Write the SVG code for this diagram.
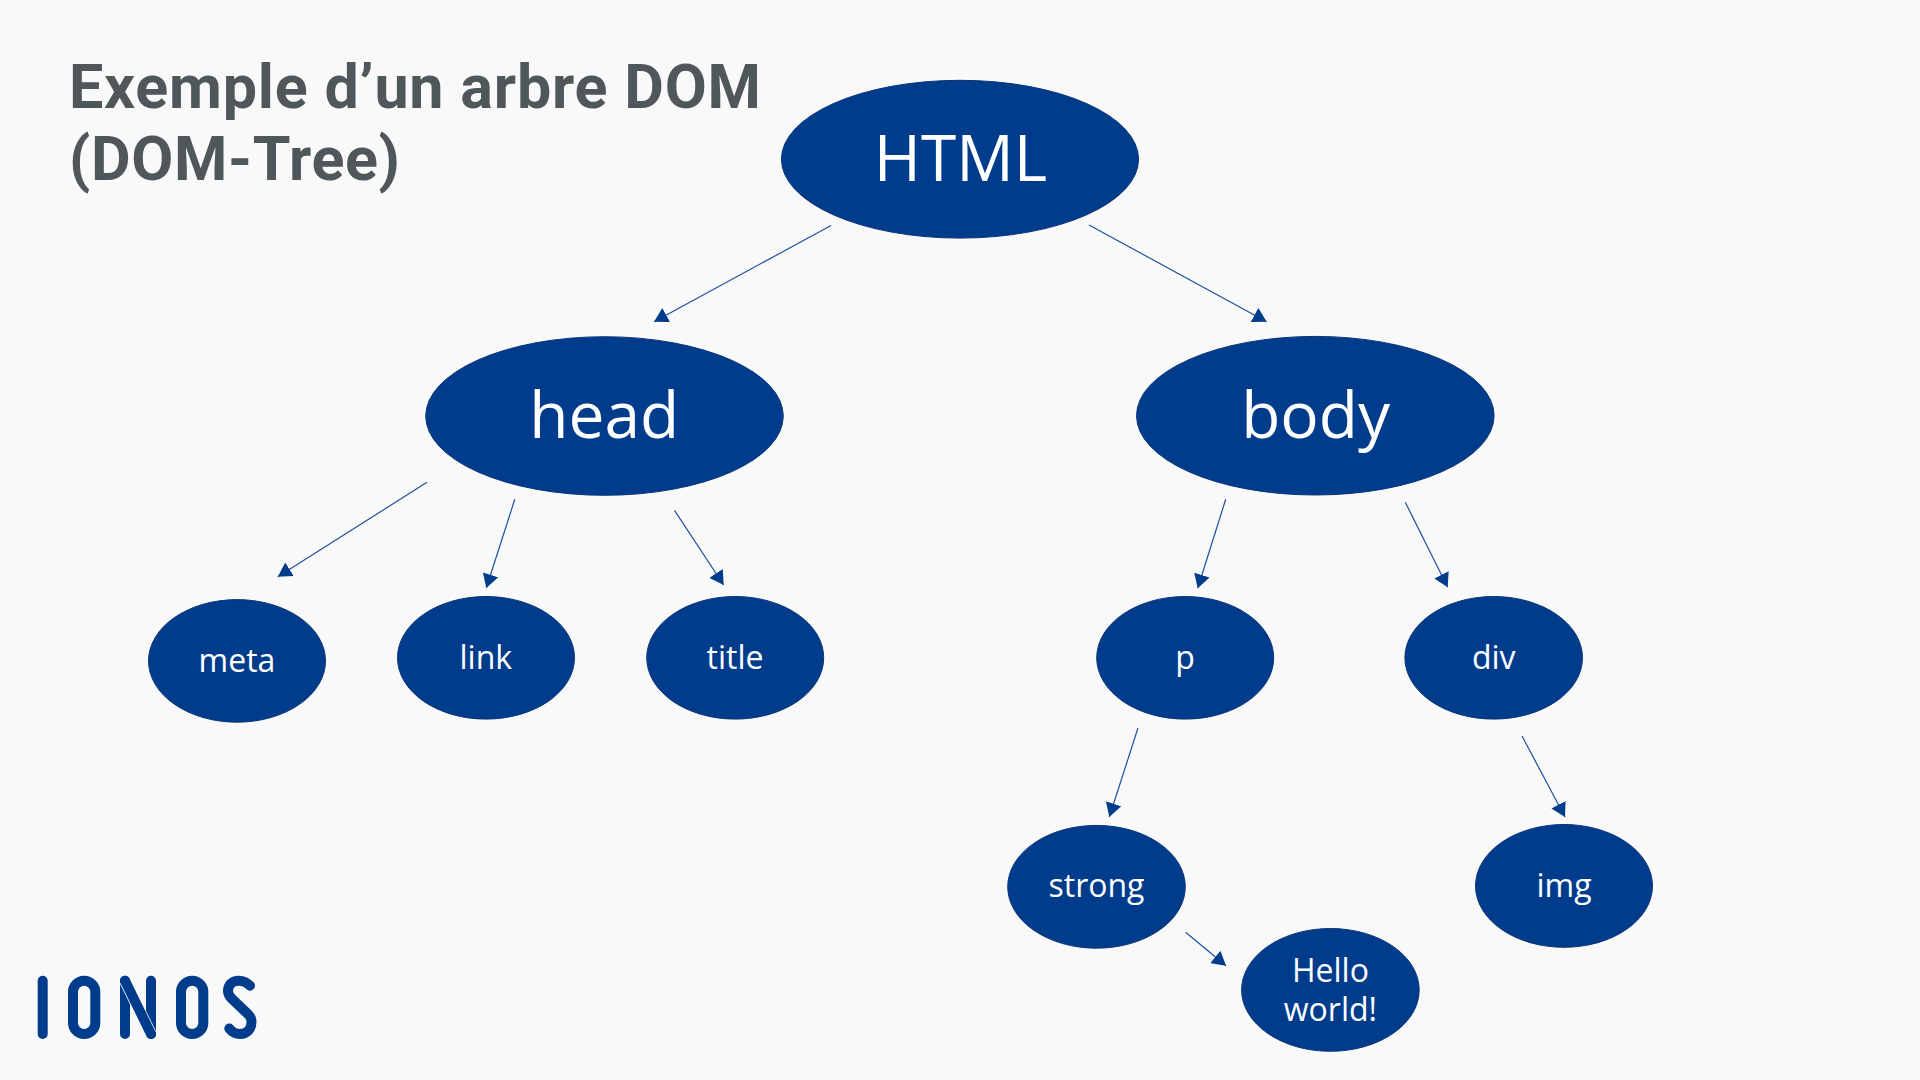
<svg xmlns="http://www.w3.org/2000/svg" width="1920" height="1080" viewBox="0 0 1920 1080">
<style>
.n{fill:#003c8c;stroke:#0b3578;stroke-width:1}
.t{fill:#fff;font-family:"Open Sans","Noto Sans",sans-serif;text-anchor:middle}
.l{font-size:64px}
.s{font-size:32px}
.c{stroke:#1d51a0;stroke-width:1.2;fill:none;marker-end:url(#a)}
.h{font-family:"Roboto","Lato",sans-serif;font-weight:700;font-size:61px;fill:#50575a}
.b{stroke:#003c8c;stroke-width:10;fill:none;stroke-linecap:round}
</style>
<defs>
<marker id="a" markerUnits="userSpaceOnUse" markerWidth="14" markerHeight="16" viewBox="0 0 12.8 14.8" refX="12.8" refY="7.4" orient="auto"><path d="M0,0L12.8,7.4L0,14.8Z" fill="#003c8c"/></marker>
</defs>
<rect width="1920" height="1080" fill="#f9f9f9"/>
<g id="title">
<text class="h" x="69" y="107.5" textLength="692" lengthAdjust="spacing">Exemple d’un arbre DOM</text>
<text class="h" x="69" y="179.5" textLength="331" lengthAdjust="spacing">(DOM-Tree)</text>
</g>
<g id="connectors">
<line class="c" x1="831" y1="225.5" x2="654" y2="321.7"/>
<line class="c" x1="1089" y1="225" x2="1266.7" y2="321.7"/>
<line class="c" x1="427" y1="482.3" x2="277.8" y2="576.7"/>
<line class="c" x1="514.8" y1="499.3" x2="486.3" y2="588"/>
<line class="c" x1="674.5" y1="510.3" x2="723.7" y2="585"/>
<line class="c" x1="1225.7" y1="499.3" x2="1197.7" y2="588.3"/>
<line class="c" x1="1405.3" y1="502.3" x2="1447.7" y2="587.3"/>
<line class="c" x1="1137.9" y1="728.3" x2="1109.3" y2="817"/>
<line class="c" x1="1522" y1="736" x2="1565" y2="817"/>
<line class="c" x1="1185.6" y1="932.3" x2="1226" y2="965.7"/>
</g>
<g id="node-html"><ellipse class="n" cx="960" cy="159.2" rx="178.6" ry="78.9"/><text class="t l" x="960.4" y="180.7">HTML</text></g>
<g id="node-head"><ellipse class="n" cx="604.5" cy="416" rx="178.8" ry="79.3"/><text class="t l" x="604.3" y="438.3">head</text></g>
<g id="node-body"><ellipse class="n" cx="1315.3" cy="415.7" rx="178.8" ry="79.3"/><text class="t l" x="1315.6" y="438.3">body</text></g>
<g id="node-meta"><ellipse class="n" cx="237" cy="660.9" rx="88.5" ry="61.3"/><text class="t s" x="237" y="672">meta</text></g>
<g id="node-link"><ellipse class="n" cx="486" cy="657.8" rx="88.5" ry="61.3"/><text class="t s" x="485.8" y="669.3">link</text></g>
<g id="node-title"><ellipse class="n" cx="735.2" cy="657.8" rx="88.5" ry="61.3"/><text class="t s" x="735" y="669.3">title</text></g>
<g id="node-p"><ellipse class="n" cx="1185.2" cy="657.8" rx="88.5" ry="61.3"/><text class="t s" x="1185" y="669">p</text></g>
<g id="node-div"><ellipse class="n" cx="1493.7" cy="657.8" rx="88.8" ry="61.3"/><text class="t s" x="1493.7" y="669">div</text></g>
<g id="node-strong"><ellipse class="n" cx="1096.5" cy="886.8" rx="88.8" ry="61.4"/><text class="t s" x="1096.5" y="897">strong</text></g>
<g id="node-img"><ellipse class="n" cx="1564" cy="885.9" rx="88.5" ry="61.4"/><text class="t s" x="1564" y="897">img</text></g>
<g id="node-hello"><ellipse class="n" cx="1330.4" cy="989.9" rx="88.8" ry="61.4"/><text class="t s" x="1330.4" y="982">Hello</text><text class="t s" x="1330.4" y="1021.3">world!</text></g>
<g id="logo">
<path class="b" d="M42.7,980.7V1034"/>
<rect class="b" x="73" y="980.7" width="22.3" height="53.3" rx="11.1"/>
<path class="b" d="M125,980.7V1034M151,980.7V1034"/>
<path d="M125,981L151,1034" stroke="#f9f9f9" stroke-width="11.5" fill="none"/>
<path class="b" d="M125,980.7L151,1034"/>
<rect class="b" x="181" y="980.7" width="22.3" height="53.3" rx="11.1"/>
<path class="b" d="M250,985.7C247,982.5 243.5,980.7 239,980.7C232,980.7 228,985 228,991C228,995 230,997 232,999L248,1014C250,1016 251.5,1018 251.5,1022C251.5,1029 247,1034 240,1034C235.5,1034 232,1032 229.3,1028.5"/>
</g>
</svg>
